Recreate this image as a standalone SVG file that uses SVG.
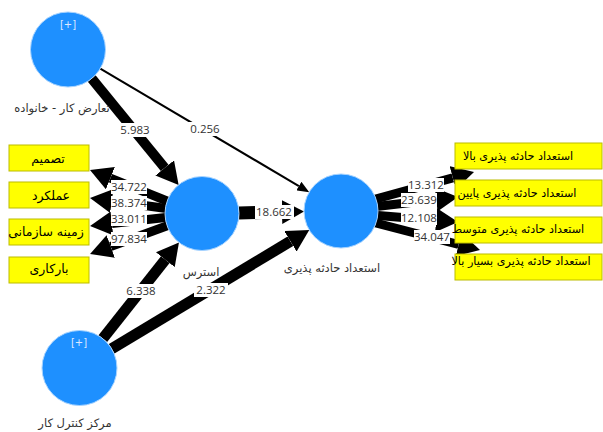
<svg xmlns="http://www.w3.org/2000/svg" width="603" height="432" viewBox="0 0 603 432">
<style>
.ln{stroke:#000;fill:none}
.bg{fill:#fff}
.num{font-family:"Open Sans","Liberation Sans",sans-serif;font-size:11.5px;fill:#333;text-anchor:middle}
.lv{fill:#1E90FF;stroke:#a8d4ff;stroke-width:1}
.plus{font-family:"DejaVu Sans",sans-serif;font-size:10px;fill:#dfe9ff;text-anchor:middle}
.nl{font-family:"DejaVu Sans",sans-serif;font-size:11.5px;fill:#333;text-anchor:middle}
.ind{fill:#FFFF00;stroke:#bcbc00;stroke-width:1}
.it{font-family:"DejaVu Sans",sans-serif;font-size:12.5px;fill:#000;text-anchor:middle}
.itr{font-family:"DejaVu Sans",sans-serif;font-size:11.2px;fill:#000;text-anchor:middle}
</style>
<defs>
<marker id="ahT" markerUnits="userSpaceOnUse" viewBox="0 0 22 24" markerWidth="22" markerHeight="24" refX="0" refY="12" orient="auto"><path d="M0,0 L22,12 L0,24 Z" fill="#000"/></marker>
<marker id="aht" markerUnits="userSpaceOnUse" viewBox="0 0 12 10" markerWidth="12" markerHeight="10" refX="0" refY="5" orient="auto"><path d="M0,0 L12,5 L0,10 Z" fill="#000"/></marker>
</defs>
<g id="connectors">
<line class="ln" x1="91.7" y1="78.5" x2="164.7" y2="167.9" stroke-width="10" marker-end="url(#ahT)"/>
<line class="ln" x1="100.3" y1="68.6" x2="298.9" y2="186.1" stroke-width="2" marker-end="url(#aht)"/>
<line class="ln" x1="239" y1="213" x2="282" y2="212" stroke-width="13" marker-end="url(#ahT)"/>
<line class="ln" x1="102.8" y1="338.6" x2="165.3" y2="259.7" stroke-width="11" marker-end="url(#ahT)"/>
<line class="ln" x1="111.7" y1="348.7" x2="290.4" y2="241.3" stroke-width="11" marker-end="url(#ahT)"/>
<line class="ln" x1="172" y1="203" x2="110.4" y2="178.2" stroke-width="9" marker-end="url(#ahT)"/>
<line class="ln" x1="170" y1="209" x2="111.8" y2="201" stroke-width="9" marker-end="url(#ahT)"/>
<line class="ln" x1="170" y1="217" x2="111.9" y2="223.5" stroke-width="9" marker-end="url(#ahT)"/>
<line class="ln" x1="172" y1="224" x2="110.7" y2="246.4" stroke-width="9" marker-end="url(#ahT)"/>
<line class="ln" x1="372" y1="200" x2="452.8" y2="177.8" stroke-width="9" marker-end="url(#ahT)"/>
<line class="ln" x1="372" y1="207" x2="436.2" y2="199.5" stroke-width="9" marker-end="url(#ahT)"/>
<line class="ln" x1="372" y1="215" x2="436.1" y2="220.2" stroke-width="9" marker-end="url(#ahT)"/>
<line class="ln" x1="372" y1="222" x2="458.7" y2="244.5" stroke-width="9" marker-end="url(#ahT)"/>
<rect class="bg" x="118" y="123" width="34" height="14"/><text class="num" x="135" y="134">5.983</text>
<rect class="bg" x="188" y="122" width="34" height="14"/><text class="num" x="205" y="133">0.256</text>
<rect class="bg" x="255" y="205" width="39" height="14"/><text class="num" x="274" y="216">18.662</text>
<rect class="bg" x="124" y="284" width="34" height="14"/><text class="num" x="141" y="295">6.338</text>
<rect class="bg" x="194" y="283" width="34" height="14"/><text class="num" x="211" y="294">2.322</text>
<rect class="bg" x="111" y="180" width="36" height="14"/><text class="num" x="129" y="191">34.722</text>
<rect class="bg" x="111" y="196" width="36" height="14"/><text class="num" x="129" y="207">38.374</text>
<rect class="bg" x="111" y="212" width="36" height="14"/><text class="num" x="129" y="223">33.011</text>
<rect class="bg" x="111" y="232" width="36" height="14"/><text class="num" x="129" y="243">97.834</text>
<rect class="bg" x="408" y="178" width="36" height="14"/><text class="num" x="426" y="189">13.312</text>
<rect class="bg" x="401" y="193" width="36" height="14"/><text class="num" x="419" y="204">23.639</text>
<rect class="bg" x="401" y="211" width="36" height="14"/><text class="num" x="419" y="222">12.108</text>
<rect class="bg" x="414" y="230" width="36" height="14"/><text class="num" x="432" y="241">34.047</text>
</g>
<g id="n_conflict">
<circle class="lv" cx="68" cy="49.5" r="37.5"/>
<text class="plus" x="68" y="28">[+]</text>
<text class="nl" x="62" y="112" direction="rtl">تعارض کار - خانواده</text>
</g>
<g id="n_stress">
<circle class="lv" cx="202" cy="213.5" r="37"/>
<text class="nl" x="201" y="276" direction="rtl">استرس</text>
</g>
<g id="n_readiness">
<circle class="lv" cx="341" cy="211" r="37"/>
<text class="nl" x="332" y="272" direction="rtl">استعداد حادثه پذیری</text>
</g>
<g id="n_locus">
<circle class="lv" cx="79.5" cy="368" r="37.5"/>
<text class="plus" x="79" y="346">[+]</text>
<text class="nl" x="75" y="427" direction="rtl">مرکز کنترل کار</text>
</g>
<g id="i_decision"><rect class="ind" x="9" y="145" width="80" height="26"/><text class="it" x="48" y="163" direction="rtl">تصمیم</text></g>
<g id="i_performance"><rect class="ind" x="9" y="182" width="80" height="26"/><text class="it" x="51" y="200" direction="rtl">عملکرد</text></g>
<g id="i_context"><rect class="ind" x="9" y="219" width="80" height="26"/><text class="it" x="46" y="236" direction="rtl">زمینه سازمانی</text></g>
<g id="i_workload"><rect class="ind" x="9" y="257" width="80" height="26"/><text class="it" x="49" y="273" direction="rtl">بارکاری</text></g>
<g id="i_high"><rect class="ind" x="455" y="143" width="147" height="26"/><text class="itr" x="518" y="160" direction="rtl">استعداد حادثه پذیری بالا</text></g>
<g id="i_low"><rect class="ind" x="455" y="180" width="147" height="26"/><text class="itr" x="517" y="197" direction="rtl">استعداد حادثه پذیری پایین</text></g>
<g id="i_mid"><rect class="ind" x="455" y="217" width="147" height="26"/><text class="itr" x="518" y="233" direction="rtl">استعداد حادثه پذیری متوسط</text></g>
<g id="i_vhigh"><rect class="ind" x="455" y="254" width="147" height="26"/><text class="itr" x="521" y="265" direction="rtl">استعداد حادثه پذیری بسیار بالا</text></g>
</svg>
